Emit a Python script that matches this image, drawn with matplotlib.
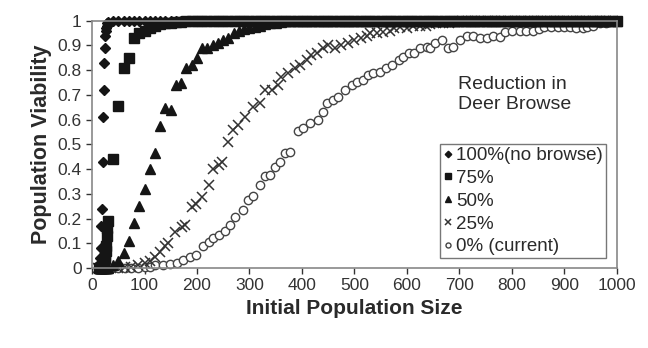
import matplotlib
matplotlib.use("Agg")
import matplotlib.pyplot as plt

plt.rcParams['font.family'] = ['Liberation Sans', 'DejaVu Sans']

# shared x grid for the three fast-rising series
grid_x = [14, 15, 16, 17, 18, 19, 20, 21, 22, 23, 24, 25, 26, 27, 28, 29, 30,
          40, 50, 60, 70, 80, 90, 100, 110, 120, 130, 140, 150, 160, 170, 180, 190, 200,
          210, 220, 230, 240, 250, 260, 270, 280, 290, 300, 310, 320, 330, 340, 350, 360,
          370, 380, 390, 400, 410, 420, 430, 440, 450, 460, 470, 480, 490, 500, 510, 520,
          530, 540, 550, 560, 570, 580, 590, 600, 610, 620, 630, 640, 650, 660, 670, 680,
          690, 700, 710, 720, 730, 740, 750, 760, 770, 780, 790, 800, 810, 820, 830, 840,
          850, 860, 870, 880, 890, 900, 910, 920, 930, 940, 950, 960, 970, 980, 990, 1000]

v100 = [0.01, 0.02, 0.04, 0.08, 0.17, 0.24, 0.43, 0.61, 0.72, 0.83, 0.89, 0.94, 0.96, 0.97, 0.98, 0.99, 0.995,
        1, 1, 1, 1, 1, 1, 1, 1, 1, 1, 1, 1, 1, 1, 1, 1, 1,
        1, 1, 1, 1, 1, 1, 1, 1, 1, 1, 1, 1, 1, 1, 1, 1,
        1, 1, 1, 1, 1, 1, 1, 1, 1, 1, 1, 1, 1, 1, 1, 1,
        1, 1, 1, 1, 1, 1, 1, 1, 1, 1, 1, 1, 1, 1, 1, 1,
        1, 1, 1, 1, 1, 1, 1, 1, 1, 1, 1, 1, 1, 1, 1, 1,
        1, 1, 1, 1, 1, 1, 1, 1, 1, 1, 1, 1, 1, 1, 1, 1]

v75 = [0, 0, 0, 0, 0, 0, 0.01, 0.01, 0.02, 0.03, 0.04, 0.05, 0.07, 0.09, 0.13, 0.16, 0.19,
       0.44, 0.656, 0.81, 0.85, 0.93, 0.95, 0.96, 0.97, 0.98, 0.985, 0.99, 0.99, 0.995, 0.995, 1, 1, 1,
       1, 1, 1, 1, 1, 1, 1, 1, 1, 1, 1, 1, 1, 1, 1, 1,
       1, 1, 1, 1, 1, 1, 1, 1, 1, 1, 1, 1, 1, 1, 1, 1,
       1, 1, 1, 1, 1, 1, 1, 1, 1, 1, 1, 1, 1, 1, 1, 1,
       1, 1, 1, 1, 1, 1, 1, 1, 1, 1, 1, 1, 1, 1, 1, 1,
       1, 1, 1, 1, 1, 1, 1, 1, 1, 1, 1, 1, 1, 1, 1, 1]

v50 = [0, 0, 0, 0, 0, 0, 0, 0, 0, 0, 0, 0, 0, 0, 0, 0, 0,
       0.01, 0.03, 0.06, 0.11, 0.18, 0.25, 0.32, 0.40, 0.466, 0.575, 0.645, 0.64, 0.74, 0.75, 0.81, 0.82, 0.85,
       0.89, 0.89, 0.90, 0.91, 0.92, 0.93, 0.95, 0.96, 0.965, 0.97, 0.975, 0.98, 0.985, 0.99, 0.99, 0.995,
       1, 1, 1, 1, 1, 1, 1, 1, 1, 1, 1, 1, 1, 1, 1, 1,
       1, 1, 1, 1, 1, 1, 1, 1, 1, 1, 1, 1, 1, 1, 1, 1,
       1, 1, 1, 1, 1, 1, 1, 1, 1, 1, 1, 1, 1, 1, 1, 1,
       1, 1, 1, 1, 1, 1, 1, 1, 1, 1, 1, 1, 1, 1, 1, 1]

x25 = [12, 25, 37, 50, 62, 75, 87, 100, 110, 120, 130, 139, 145, 158, 171, 178, 190, 199, 209, 222,
       231, 241, 247, 260, 269, 279, 291, 307, 320, 330, 342, 355, 361, 374, 387, 396, 409, 418, 429, 441,
       450, 462, 474, 487, 499, 512, 524, 530, 542, 555, 567, 575, 587, 600, 612, 624, 636, 644, 656, 668,
       680, 692, 705, 717, 730, 742, 755, 767, 780, 792, 805, 817, 830, 842, 855, 867, 880, 892, 905, 917,
       930, 942, 955, 967, 980, 992]
v25 = [0, 0, 0, 0, 0.002, 0.005, 0.01, 0.02, 0.03, 0.046, 0.066, 0.09, 0.10, 0.147, 0.165, 0.174, 0.248, 0.26, 0.286, 0.336,
       0.40, 0.417, 0.43, 0.51, 0.558, 0.578, 0.61, 0.65, 0.666, 0.72, 0.72, 0.74, 0.774, 0.787, 0.807, 0.82, 0.84, 0.86, 0.87, 0.888,
       0.90, 0.89, 0.90, 0.91, 0.92, 0.93, 0.94, 0.95, 0.95, 0.955, 0.96, 0.97, 0.976, 0.97, 0.98, 0.98, 0.98, 0.985, 0.99, 0.99,
       0.99, 0.995, 1, 1, 1, 1, 1, 1, 1, 1, 1, 1, 1, 1, 1, 1, 1, 1, 1, 1,
       1, 1, 1, 1, 1, 1]

x0 = [12, 25, 37, 50, 62, 75, 87, 100, 110, 120, 135, 149, 161, 174, 187, 199, 212, 222, 231, 241,
      253, 263, 272, 288, 298, 307, 320, 330, 339, 349, 358, 368, 377, 393, 402, 415, 431, 441, 447, 460,
      469, 482, 495, 504, 517, 526, 536, 549, 561, 571, 584, 593, 603, 614, 625, 638, 644, 653, 666, 679,
      688, 701, 714, 726, 739, 752, 764, 777, 787, 800, 815, 827, 840, 852, 862, 875, 887, 899, 911, 923,
      935, 943, 955, 967, 980, 1000]
v0 = [0, 0, 0, 0, 0, 0, 0, 0.003, 0.005, 0.01, 0.012, 0.016, 0.02, 0.032, 0.043, 0.053, 0.089, 0.106, 0.12, 0.133,
      0.15, 0.174, 0.205, 0.235, 0.275, 0.29, 0.336, 0.37, 0.376, 0.41, 0.43, 0.464, 0.47, 0.555, 0.565, 0.585, 0.60, 0.63, 0.666, 0.68,
      0.69, 0.72, 0.74, 0.753, 0.76, 0.78, 0.787, 0.794, 0.807, 0.82, 0.84, 0.855, 0.868, 0.87, 0.888, 0.895, 0.888, 0.91, 0.92, 0.888,
      0.895, 0.92, 0.94, 0.94, 0.93, 0.93, 0.94, 0.935, 0.956, 0.96, 0.96, 0.96, 0.96, 0.965, 0.976, 0.976, 0.976, 0.976, 0.975, 0.97,
      0.97, 0.976, 0.98, 0.99, 0.99, 1.0]

labels = ['100%(no browse)', '75%', '50%', '25%', '0% (current)']
ticks_x = [0, 100, 200, 300, 400, 500, 600, 700, 800, 900, 1000]
ticks_y = [0, 0.1, 0.2, 0.3, 0.4, 0.5, 0.6, 0.7, 0.8, 0.9, 1]
tick_y_labels = ['0', '0.1', '0.2', '0.3', '0.4', '0.5', '0.6', '0.7', '0.8', '0.9', '1']

fig = plt.figure(figsize=(6.48, 3.48), dpi=100)
ax = fig.add_axes([0.142, 0.23, 0.81, 0.7105])

ink = '#151515'
ax.plot(x0, v0, 'o', ms=6, mfc='white', mec='#444444', mew=1.0, ls='none', clip_on=False, label=labels[4])
ax.plot(x25, v25, 'x', ms=7, mec='#333333', mew=1.1, ls='none', clip_on=False, label=labels[3])
ax.plot(grid_x, v50, '^', ms=7, color=ink, ls='none', clip_on=False, label=labels[2])
ax.plot(grid_x, v75, 's', ms=6.5, color=ink, ls='none', clip_on=False, label=labels[1])
ax.plot(grid_x, v100, 'D', ms=5.5, color=ink, ls='none', clip_on=False, label=labels[0])

ax.set_xlim(0, 1000)
ax.set_ylim(0, 1)
ax.set_xticks(ticks_x)
ax.set_yticks(ticks_y)
ax.set_yticklabels(tick_y_labels)
ax.tick_params(labelsize=12.5, colors='#333333', direction='out', length=4, width=1)
for side in ['left', 'bottom', 'right', 'top']:
    ax.spines[side].set_color('#888888')
    ax.spines[side].set_linewidth(1.2)

ax.set_xlabel('Initial Population Size', fontsize=15, fontweight='bold', color='#2a2a2a', labelpad=4)
ax.set_ylabel('Population Viability', fontsize=15.5, fontweight='bold', color='#2a2a2a', labelpad=4)

handles, labs = ax.get_legend_handles_labels()
leg = ax.legend(handles[::-1], labs[::-1], loc='lower right', bbox_to_anchor=(0.979, 0.04),
                fontsize=13.5, frameon=True, fancybox=False, edgecolor='#555555',
                handlelength=0.5, handletextpad=0.2, borderpad=0.15, labelspacing=0.3,
                markerscale=0.6, borderaxespad=0)
leg.get_frame().set_linewidth(1.0)
for t in leg.get_texts():
    t.set_color('#2a2a2a')

ax.text(0.697, 0.775, 'Reduction in\nDeer Browse', transform=ax.transAxes, fontsize=14,
        color='#2a2a2a', va='top', ha='left', linespacing=1.2)

fig.savefig('out.png', dpi=100)
